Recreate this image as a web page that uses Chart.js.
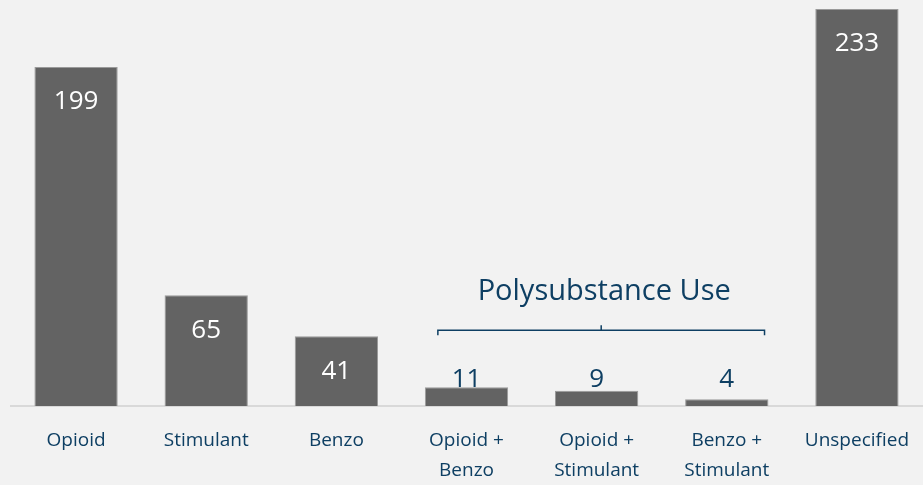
<!DOCTYPE html>
<html>
<head>
<meta charset="utf-8">
<script src="https://cdn.jsdelivr.net/npm/chart.js@4"></script>
<style>
  body { margin: 0; background: #f2f2f2; }
  #miCanva { display: block; }
</style>
</head>
<body>
<canvas id="miCanva" width="923" height="485"></canvas>
<script>
const categorias = [
  ['Opioid'], ['Stimulant'], ['Benzo'],
  ['Opioid +', 'Benzo'], ['Opioid +', 'Stimulant'], ['Benzo +', 'Stimulant'],
  ['Unspecified']
];
const muertes = [199, 65, 41, 11, 9, 4, 233];
const grupo = { titulo: 'Polysubstance Use', desde: 3, hasta: 5 };

const azul = '#0e3f63';
const fuente = "'Open Sans', sans-serif";

// etiquetas de valor y la llave de "Polysubstance Use"
const etiquetas = {
  id: 'etiquetas',
  afterDatasetsDraw(chart) {
    const ctx = chart.ctx;
    const x = chart.scales.x;
    const y = chart.scales.y;
    const meta = chart.getDatasetMeta(0);
    ctx.save();
    ctx.font = '26px ' + fuente;
    ctx.textAlign = 'center';
    meta.data.forEach((bar, i) => {
      const v = muertes[i];
      if (v > 30) {
        ctx.fillStyle = '#ffffff';
        ctx.textBaseline = 'middle';
        ctx.fillText(v, bar.x, bar.y + 35);
      } else {
        ctx.fillStyle = azul;
        ctx.textBaseline = 'alphabetic';
        ctx.fillText(v, bar.x, y.getPixelForValue(11));
      }
    });

    // llave
    const paso = x.getPixelForValue(1) - x.getPixelForValue(0);
    const x0 = x.getPixelForValue(grupo.desde) - paso * 0.22;
    const x1 = x.getPixelForValue(grupo.hasta) + paso * 0.29;
    const xc = (x0 + x1) / 2;
    const yl = y.getPixelForValue(44.5);
    ctx.strokeStyle = azul;
    ctx.lineWidth = 1.5;
    ctx.beginPath();
    ctx.moveTo(x0, yl + 5);
    ctx.lineTo(x0, yl);
    ctx.lineTo(x1, yl);
    ctx.lineTo(x1, yl + 5);
    ctx.moveTo(xc, yl);
    ctx.lineTo(xc, yl - 5);
    ctx.stroke();

    ctx.fillStyle = azul;
    ctx.font = '29px ' + fuente;
    ctx.textBaseline = 'middle';
    ctx.fillText(grupo.titulo, xc + 3, yl - 38);
    ctx.restore();
  }
};

new Chart(document.getElementById('miCanva'), {
  type: 'bar',
  data: {
    labels: categorias,
    datasets: [{
      data: muertes,
      backgroundColor: '#636363',
      borderColor: '#9a9a9a',
      borderWidth: 1,
      barPercentage: 0.64,
      categoryPercentage: 1
    }]
  },
  options: {
    responsive: false,
    animation: false,
    layout: { padding: { left: 11, right: 1, top: 9, bottom: 0 } },
    plugins: {
      legend: { display: false },
      tooltip: { enabled: false }
    },
    scales: {
      x: {
        grid: { display: false, drawTicks: false },
        border: { display: true, color: '#d9d9d9', width: 2 },
        ticks: {
          color: azul,
          padding: 20,
          maxRotation: 0,
          autoSkip: false,
          font: { family: fuente, size: 19, lineHeight: 1.55 }
        },
        afterFit: (s) => {
          s.height = 79;
          s.paddingLeft = 0;
          s.paddingRight = 0;
        }
      },
      y: {
        display: false,
        min: 0,
        max: 233
      }
    }
  },
  plugins: [etiquetas]
});
</script>
</body>
</html>
